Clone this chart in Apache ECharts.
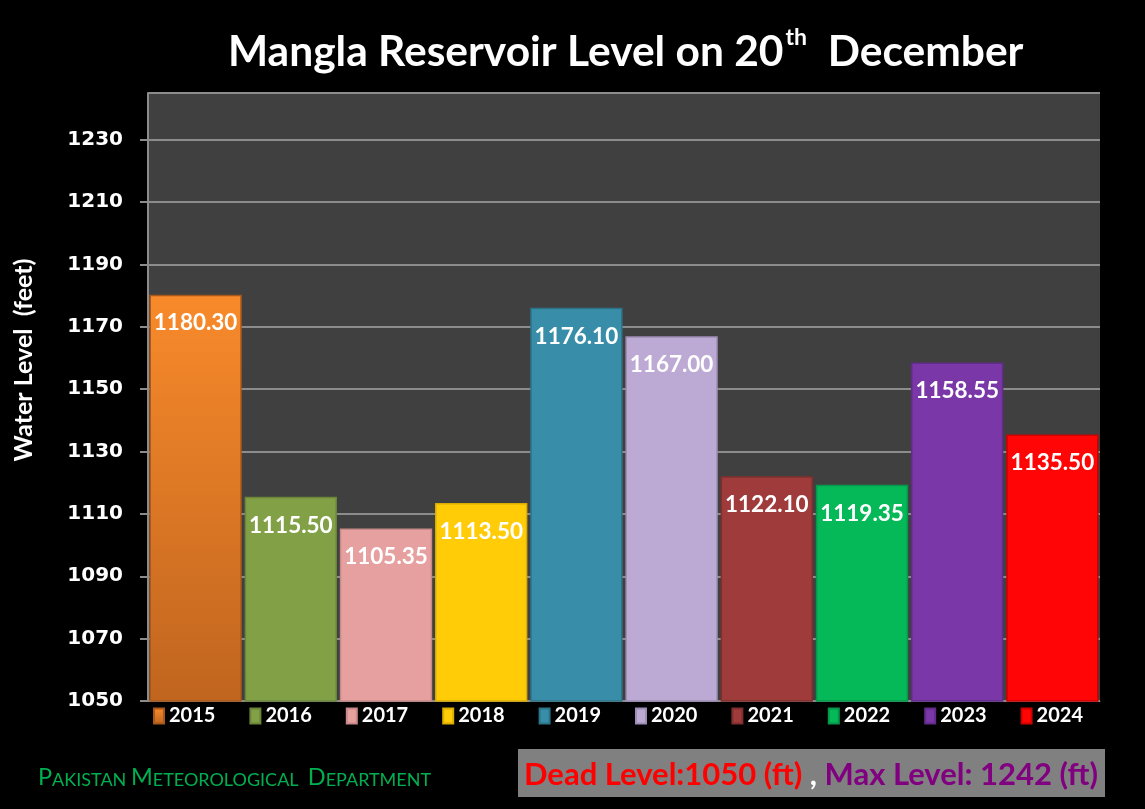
<!DOCTYPE html>
<html><head><meta charset="utf-8">
<script src="https://cdn.jsdelivr.net/npm/echarts@6/dist/echarts.min.js"></script>
<style>html,body{margin:0;padding:0;background:#000;}#c{width:1145px;height:809px;}</style>
</head><body><div id="c"></div>
<script>
const years = ['2015','2016','2017','2018','2019','2020','2021','2022','2023','2024'];
const levels = [1180.30, 1115.50, 1105.35, 1113.50, 1176.10, 1167.00, 1122.10, 1119.35, 1158.55, 1135.50];
const colors = ['#f88a2b','#82a045','#e5a09f','#ffcc07','#388ea8','#bdaad4','#9f3c3b','#05b858','#7a37a8','#ff0505'];
const bottomColors = ['#c0651f','#82a045','#e5a09f','#ffcc07','#388ea8','#bdaad4','#9f3c3b','#05b858','#7a37a8','#ff0505'];
const edgeColors = ['#a9581b','#6b853a','#c88a88','#dcae00','#2c7488','#9e8db5','#7f2f2e','#04984a','#622c8a','#d00000'];
const yTicks = {min: 1050, max: 1245, interval: 20};
const yAxisTitle = 'Water Level  (feet)';

const chart = echarts.init(document.getElementById('c'));
const series = years.map((y, i) => ({
  name: y,
  type: 'bar',
  stack: 'all',
  barCategoryGap: '3%',
  data: years.map((_, j) => j === i ? levels[i] : '-'),
  itemStyle: {
    color: new echarts.graphic.LinearGradient(0, 0, 0, 1, [
      {offset: 0, color: colors[i]}, {offset: 1, color: bottomColors[i]}
    ]),
    borderColor: edgeColors[i], borderWidth: 1.5
  },
  label: {
    show: true, position: 'insideTop', distance: 17,
    formatter: p => p.value.toFixed(2),
    color: '#fff', fontFamily: 'Lato', fontWeight: 'bold', fontSize: 22.5
  }
}));

chart.setOption({
  backgroundColor: '#000',
  animation: false,
  grid: {left: 148, right: 45, top: 93, bottom: 108, show: true, backgroundColor: '#404040', borderWidth: 0, outerBoundsMode: 'none', containLabel: false},
  xAxis: {
    type: 'category', data: years,
    axisLine: {show: true, lineStyle: {color: '#8c8c8c', width: 1}},
    axisTick: {show: false}, axisLabel: {show: false}
  },
  yAxis: {
    type: 'value', min: yTicks.min, max: yTicks.max, interval: yTicks.interval,
    axisLine: {show: true, lineStyle: {color: '#8c8c8c', width: 2}},
    axisTick: {show: true, length: 8, lineStyle: {color: '#8c8c8c', width: 2}},
    axisLabel: {color: '#fff', fontFamily: 'DejaVu Sans', fontWeight: 'bold', fontSize: 20, margin: 25, showMaxLabel: false,
      formatter: v => (v === yTicks.max ? '' : String(v))},
    splitLine: {show: true, lineStyle: {color: '#8c8c8c', width: 2}}
  },
  legend: {
    data: years, bottom: 83, left: 153, padding: 0, itemWidth: 10, itemHeight: 15, itemGap: 34, icon: 'rect',
    textStyle: {color: '#fff', fontFamily: 'Lato', fontWeight: 'bold', fontSize: 20, width: 50}
  },
  series: series,
  graphic: [
    {type: 'text', x: 24, y: 360, rotation: Math.PI / 2, style: {
      text: yAxisTitle, fill: '#fff', fontFamily: 'Lato', fontWeight: 'bold', fontSize: 25,
      align: 'center', verticalAlign: 'middle'
    }},
    {type: 'text', left: 228, top: 24, style: {
      text: '{a|Mangla Reservoir Level on 20}{s|th}{a|  December}',
      rich: {
        a: {fill: '#fff', fontFamily: 'Lato', fontWeight: 'bold', fontSize: 42.5, verticalAlign: 'bottom', lineHeight: 50},
        s: {fill: '#fff', fontFamily: 'Lato', fontWeight: 'bold', fontSize: 23, verticalAlign: 'top', lineHeight: 50, padding: [2, 0, 16, 2]}
      }
    }},
    {type: 'text', left: 38, top: 765, style: {
      text: '{b|P}{s|AKISTAN }{b|M}{s|ETEOROLOGICAL  }{b|D}{s|EPARTMENT}',
      rich: {
        b: {fill: '#00b050', fontFamily: 'Lato', fontSize: 23.5, verticalAlign: 'bottom'},
        s: {fill: '#00b050', fontFamily: 'Lato', fontSize: 18, verticalAlign: 'bottom'}
      }
    }},
    {type: 'rect', shape: {x: 518, y: 749, width: 587, height: 48}, style: {fill: '#808080'}},
    {type: 'text', left: 524, top: 759, style: {
      text: '{r|Dead Level:1050 (ft)}{w| , }{p|Max Level: 1242 (ft)}',
      rich: {
        r: {fill: '#ff0000', fontFamily: 'Lato', fontWeight: 'bold', fontSize: 31},
        w: {fill: '#ffffff', fontFamily: 'Lato', fontWeight: 'bold', fontSize: 31},
        p: {fill: '#800080', fontFamily: 'Lato', fontWeight: 'bold', fontSize: 31}
      }
    }}
  ]
});
</script></body></html>
